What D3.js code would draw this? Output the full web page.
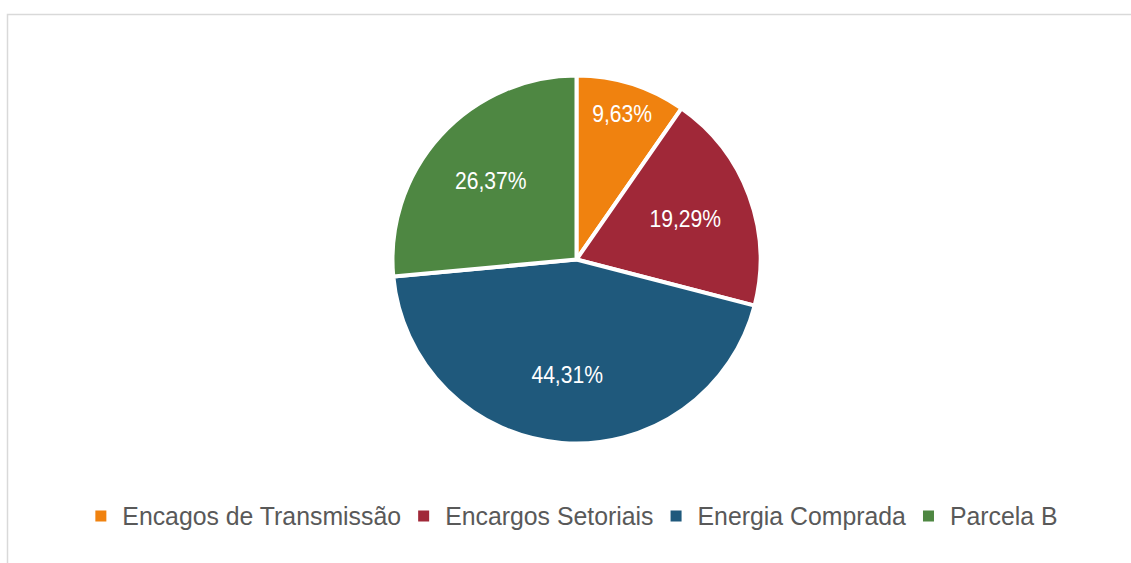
<!DOCTYPE html>
<html>
<head>
<meta charset="utf-8">
<script src="https://cdn.jsdelivr.net/npm/d3@7"></script>
<style>
  html, body { margin: 0; padding: 0; background: #ffffff; }
  svg { display: block; }
</style>
</head>
<body>
<svg id="chart" width="1131" height="563"></svg>
<script>
// ---- data ----
const categories = ["Encagos de Transmissão", "Encargos Setoriais", "Energia Comprada", "Parcela B"];
const values = [9.63, 19.29, 44.31, 26.37];
const labels = ["9,63%", "19,29%", "44,31%", "26,37%"];
const colors = ["#F0820F", "#A02838", "#1F597C", "#4E8742"];

// ---- layout ----
const W = 1131, H = 563;
const cx = 576.5, cy = 259.5, R = 184;
const svg = d3.select("#chart");

// chart frame (only top and left edges visible)
svg.append("rect")
  .attr("x", 7.5).attr("y", 14.5)
  .attr("width", 1300).attr("height", 800)
  .attr("fill", "none")
  .attr("stroke", "#d9d9d9")
  .attr("stroke-width", 1.5);

const data = categories.map((c, i) => ({ cat: c, value: values[i], label: labels[i], color: colors[i] }));

const pie = d3.pie().value(d => d.value).sort(null);
const arcs = pie(data);
const arc = d3.arc().innerRadius(0).outerRadius(R);

const g = svg.append("g").attr("transform", `translate(${cx},${cy})`);

g.selectAll("path.slice")
  .data(arcs)
  .join("path")
  .attr("class", "slice")
  .attr("d", arc)
  .attr("fill", d => d.data.color)
  .attr("stroke", "#ffffff")
  .attr("stroke-width", 4)
  .attr("stroke-linejoin", "miter");

// data labels: narrow slices pushed outward
g.selectAll("text.lbl")
  .data(arcs)
  .join("text")
  .attr("class", "lbl")
  .attr("transform", d => {
    const span = d.endAngle - d.startAngle;
    const rr = span < Math.PI / 4 ? R * 0.83 : R * 0.63;
    const c = d3.arc().innerRadius(rr).outerRadius(rr).centroid(d);
    return `translate(${c[0]},${c[1]}) scale(0.88,1)`;
  })
  .attr("text-anchor", "middle")
  .attr("dominant-baseline", "central")
  .attr("font-family", "'Liberation Sans', Arial, sans-serif")
  .attr("font-size", 24)
  .attr("fill", "#ffffff")
  .text(d => d.data.label);

// ---- legend ----
const legY = 516;
const sq = 11, gapSqText = 16, gapItem = 17, squeeze = 0.955;
const leg = svg.append("g");
const items = leg.selectAll("g.item").data(data).join("g").attr("class", "item");
items.append("rect")
  .attr("width", sq).attr("height", sq)
  .attr("y", legY - sq / 2)
  .attr("fill", d => d.color);
items.append("text")
  .attr("dominant-baseline", "central")
  .attr("font-family", "'Liberation Sans', Arial, sans-serif")
  .attr("font-size", 26)
  .attr("fill", "#595959")
  .text(d => d.cat);

const widths = [];
items.select("text").each(function () { widths.push(this.getComputedTextLength() * squeeze); });
const total = d3.sum(widths) + data.length * (sq + gapSqText) + (data.length - 1) * gapItem;
let x = cx - total / 2;
items.each(function (d, i) {
  const it = d3.select(this);
  it.select("rect").attr("x", x);
  it.select("text").attr("transform", `translate(${x + sq + gapSqText},${legY}) scale(${squeeze},1)`);
  x += sq + gapSqText + widths[i] + gapItem;
});
</script>
</body>
</html>
